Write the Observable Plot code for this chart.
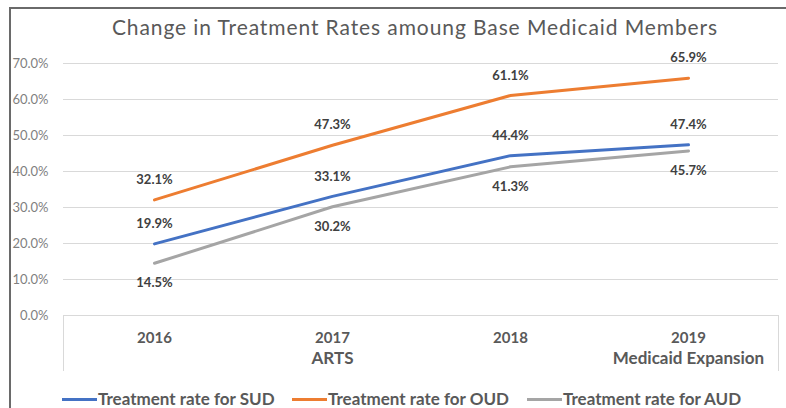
<!DOCTYPE html>
<html>
<head>
<meta charset="utf-8">
<script src="https://cdn.jsdelivr.net/npm/d3@7"></script>
<script src="https://cdn.jsdelivr.net/npm/@observablehq/plot@0.6"></script>
<style>
  html, body { margin: 0; padding: 0; background: #fff; }
  body { width: 786px; height: 408px; position: relative; overflow: hidden; font-family: Lato, "Open Sans", sans-serif; }
  #frame { position: absolute; left: 9px; top: 7px; width: 800px; height: 420px; border-top: 2px solid #6a6a6a; border-left: 2px solid #6a6a6a; }
  #title { position: absolute; left: 0; top: 14px; width: 830px; text-align: center; font-size: 21px; letter-spacing: 0.9px; color: #595959; white-space: nowrap; }
  #chart { position: absolute; left: 0; top: 0; }
  #catbox { position: absolute; left: 63px; top: 315px; width: 714px; height: 55px; border: 1px solid #d9d9d9; border-bottom: none; }
  .leg { position: absolute; top: 390px; font-size: 17px; line-height: 17px; font-weight: bold; color: #595959; white-space: nowrap; }
  .sw { position: absolute; top: 398px; width: 35px; height: 3px; }
</style>
</head>
<body>
<div id="frame"></div>
<div id="catbox"></div>
<div id="chart"></div>
<div id="title"></div>
<div id="legend"></div>
<script>
const titleText = "Change in Treatment Rates amoung Base Medicaid Members";
const years = ["2016", "2017", "2018", "2019"];
const yearNotes = ["", "ARTS", "", "Medicaid Expansion"];
const seriesNames = ["Treatment rate for SUD", "Treatment rate for OUD", "Treatment rate for AUD"];
const seriesColors = ["#4472C4", "#ED7D31", "#A5A5A5"];
const sud = [19.9, 33.1, 44.4, 47.4];
const oud = [32.1, 47.3, 61.1, 65.9];
const aud = [14.5, 30.2, 41.3, 45.7];
const yTicks = [0, 10, 20, 30, 40, 50, 60, 70];

const seriesValues = [sud, oud, aud];
const data = [];
seriesNames.forEach((s, i) => years.forEach((yr, j) => data.push({series: s, year: yr, value: seriesValues[i][j] / 100})));
const noteOf = new Map(years.map((y, i) => [y, yearNotes[i]]));
const pct = d3.format(".1%");

document.getElementById("title").textContent = titleText;

const chart = Plot.plot({
  width: 786,
  height: 408,
  marginLeft: 63,
  marginRight: 8,
  marginTop: 63,
  marginBottom: 93,
  style: {fontFamily: "Lato, 'Open Sans', sans-serif", background: "transparent", overflow: "visible"},
  x: {type: "point", domain: years, padding: 0.5, axis: null},
  y: {domain: [0, 0.7], axis: null},
  color: {domain: seriesNames, range: seriesColors},
  marks: [
    Plot.gridY(yTicks.map(d => d / 100), {stroke: "#d9d9d9", strokeOpacity: 1}),
    Plot.axisY(yTicks.map(d => d / 100), {tickSize: 0, tickPadding: 15, tickFormat: pct, fill: "#7f7f7f", fontSize: 13, label: null}),
    Plot.axisX(years, {tickSize: 0, tickPadding: 17, tickFormat: d => d,
      fontWeight: "bold", fill: "#595959", fontSize: 15, label: null}),
    Plot.axisX(years, {tickSize: 0, tickPadding: 36, tickFormat: d => noteOf.get(d),
      fontWeight: "bold", fill: "#595959", fontSize: 17, label: null}),
    Plot.line(data, {x: "year", y: "value", z: "series", stroke: "series", strokeWidth: 3}),
    Plot.text(data.filter(d => d.series !== seriesNames[2]), {x: "year", y: "value", text: d => pct(d.value), dy: -20,
      fontWeight: "bold", fontSize: 13, fill: "#404040"}),
    Plot.text(data.filter(d => d.series === seriesNames[2]), {x: "year", y: "value", text: d => pct(d.value), dy: 20,
      fontWeight: "bold", fontSize: 13, fill: "#404040"})
  ]
});
document.getElementById("chart").appendChild(chart);

const legendLefts = [62, 292, 527];
const legend = document.getElementById("legend");
seriesNames.forEach((s, i) => {
  const sw = document.createElement("div");
  sw.className = "sw";
  sw.style.left = legendLefts[i] + "px";
  sw.style.background = seriesColors[i];
  legend.appendChild(sw);
  const item = document.createElement("div");
  item.className = "leg";
  item.style.left = (legendLefts[i] + 36) + "px";
  item.textContent = s;
  legend.appendChild(item);
});
</script>
</body>
</html>
